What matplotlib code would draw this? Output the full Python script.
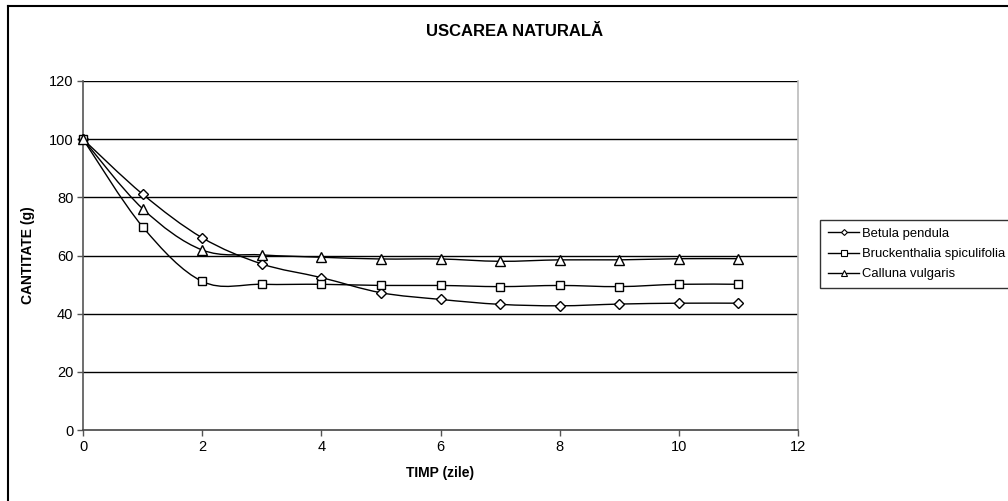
import matplotlib
matplotlib.use('Agg')
import matplotlib.pyplot as plt
from matplotlib.path import Path
from matplotlib.patches import PathPatch
from matplotlib.lines import Line2D
import numpy as np

plt.rcParams['font.family'] = ['Liberation Sans', 'DejaVu Sans']

# data
zile = [0, 1, 2, 3, 4, 5, 6, 7, 8, 9, 10, 11]
betula = [100, 81.1, 66.1, 57.1, 52.4, 47.2, 44.9, 43.2, 42.7, 43.3, 43.6, 43.6]
bruckenthalia = [100, 69.9, 51.1, 50.1, 50.1, 49.7, 49.7, 49.3, 49.7, 49.3, 50.1, 50.1]
calluna = [100, 76.1, 61.9, 60.2, 59.4, 58.8, 58.8, 58.0, 58.5, 58.5, 58.9, 58.9]

series = [
    ('Betula pendula', betula, 'D', 5),
    ('Bruckenthalia spiculifolia', bruckenthalia, 's', 6),
    ('Calluna vulgaris', calluna, '^', 7),
]


def smooth_path(x, y):
    # Excel-like smoothed line: cubic bezier with catmull-rom tangents
    pts = np.column_stack([x, y]).astype(float)
    verts = [pts[0]]
    codes = [Path.MOVETO]
    n = len(pts)
    for i in range(n - 1):
        p0 = pts[i - 1] if i > 0 else pts[i]
        p1 = pts[i]
        p2 = pts[i + 1]
        p3 = pts[i + 2] if i + 2 < n else pts[i + 1]
        c1 = p1 + (p2 - p0) / 6.0
        c2 = p2 - (p3 - p1) / 6.0
        verts += [c1, c2, p2]
        codes += [Path.CURVE4] * 3
    return Path(verts, codes)


fig = plt.figure(figsize=(10.08, 5.01), dpi=100)
ax = fig.add_axes([83 / 1008, 1 - 430 / 501, 715 / 1008, 349 / 501])

for y in range(20, 121, 20):
    ax.axhline(y, color='black', lw=1.0, zorder=1)

handles = []
for name, vals, mk, ms in series:
    ax.add_patch(PathPatch(smooth_path(zile, vals), fill=False, edgecolor='black', lw=1.0, zorder=2))
    ax.plot(zile, vals, linestyle='none', marker=mk, markersize=ms, markerfacecolor='white',
            markeredgecolor='black', markeredgewidth=1.0, zorder=3, clip_on=False)
    handles.append(Line2D([], [], color='black', lw=1.0, marker=mk, markersize=ms - 2,
                          markerfacecolor='white', markeredgecolor='black', markeredgewidth=0.8))

ax.set_xlim(0, 12)
ax.set_ylim(0, 120)
ax.set_xticks(range(0, 13, 2))
ax.set_yticks(range(0, 121, 20))
ax.tick_params(direction='out', length=4, width=1, color='#555555', labelsize=10.5, pad=3)

ax.spines['left'].set_color('#555555')
ax.spines['bottom'].set_color('#444444')
ax.spines['right'].set_color('#bbbbbb')
ax.spines['top'].set_visible(False)
for s in ['left', 'bottom', 'right']:
    ax.spines[s].set_linewidth(1.2)

ax.set_xlabel('TIMP (zile)', fontsize=10, fontweight='bold', labelpad=9)
ax.set_ylabel('CANTITATE (g)', fontsize=10, fontweight='bold', labelpad=10)

fig.text(515 / 1008, 1 - 31 / 501, 'USCAREA NATURALĂ', ha='center', va='center',
         fontsize=12, fontweight='bold')

leg = fig.legend(handles, [s[0] for s in series], loc='upper left',
                 bbox_to_anchor=(820 / 1008, 1 - 220 / 501), fontsize=9.4,
                 frameon=True, fancybox=False, shadow=False, handlelength=2.4,
                 handletextpad=0.2, borderpad=0.6, labelspacing=0.62, borderaxespad=0)
leg.get_frame().set_edgecolor('black')
leg.get_frame().set_linewidth(1.0)

# outer chart frame (left and top edges visible)
fig.add_artist(Line2D([8 / 1008, 8 / 1008], [0, 1 - 6 / 501], color='black', lw=1.5,
                      transform=fig.transFigure))
fig.add_artist(Line2D([8 / 1008, 1], [1 - 6 / 501, 1 - 6 / 501], color='black', lw=1.5,
                      transform=fig.transFigure))

fig.savefig('out.png', dpi=100)
